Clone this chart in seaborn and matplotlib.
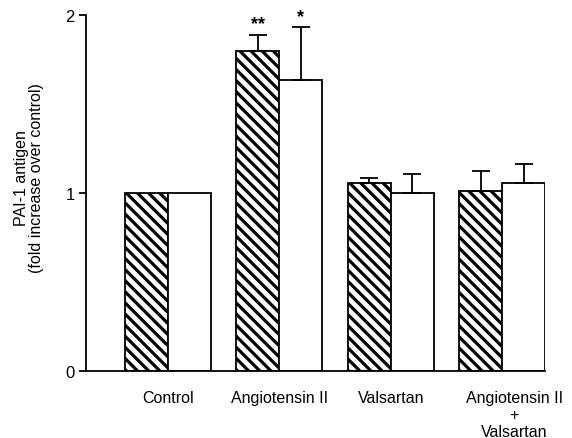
import seaborn as sns
import matplotlib.pyplot as plt
import matplotlib.transforms as mtransforms
import numpy as np
import pandas as pd

# values (fold increase over control)
groups = ["Control", "Angiotensin II", "Valsartan", "Angiotensin II\n+\nValsartan"]
series = ["hatched", "open"]
hatched_vals = [1.00, 1.80, 1.056, 1.01]
open_vals = [1.00, 1.635, 1.00, 1.056]
hatched_err = [0.0, 0.09, 0.028, 0.114]
open_err = [0.0, 0.295, 0.107, 0.107]
hatched_marks = ["", "**", "", ""]
open_marks = ["", "*", "", ""]

df = pd.DataFrame({
    "group": groups * 2,
    "series": [series[0]] * 4 + [series[1]] * 4,
    "value": hatched_vals + open_vals,
    "err": hatched_err + open_err,
    "mark": hatched_marks + open_marks,
})

sns.set_style("ticks", {"text.color": "black", "axes.labelcolor": "black",
                        "xtick.color": "black", "ytick.color": "black",
                        "axes.edgecolor": "black"})
plt.rcParams["font.family"] = ["Liberation Sans", "DejaVu Sans"]
plt.rcParams["hatch.linewidth"] = 2.3

fig = plt.figure(figsize=(5.72, 4.39), dpi=100)
ax = fig.add_axes([0.150, 0.1526, 0.803, 0.811])

sns.barplot(data=df, x="group", y="value", hue="series", order=groups,
            hue_order=series, palette=["white", "white"], width=0.77,
            errorbar=None, edgecolor="black", linewidth=1.3, legend=False, ax=ax)

for patch in ax.containers[0]:
    patch.set_hatch("\\\\\\")

# one-sided error bars and significance marks
for cont, s in zip(ax.containers, series):
    sub = df[df["series"] == s].set_index("group").loc[groups]
    for patch, (_, row) in zip(cont, sub.iterrows()):
        xc = patch.get_x() + patch.get_width() / 2
        top = patch.get_height()
        if row["err"] > 0:
            ax.errorbar(xc, top, yerr=[[0], [row["err"]]], fmt="none",
                        ecolor="black", elinewidth=1.3, capsize=6.5, capthick=1.3)
        if row["mark"]:
            ax.text(xc, top + row["err"] + 0.015, row["mark"], ha="center",
                    va="bottom", fontsize=13, fontweight="bold", color="black")

ax.set_ylim(0, 2)
ax.set_xlim(-0.734, 3.385)
ax.set_yticks([0, 1, 2])
ax.set_xlabel("")
ax.set_ylabel("PAI-1 antigen\n(fold increase over control)", fontsize=11.5,
              linespacing=1.05, color="black")
ax.yaxis.set_label_coords(-0.09, 0.545)
ax.tick_params(axis="y", length=5, width=1.3, labelsize=12, pad=3, colors="black")
ax.tick_params(axis="x", length=0, labelsize=11.5, pad=14, colors="black")
for lbl in ax.get_xticklabels():
    lbl.set_verticalalignment("top")
    lbl.set_linespacing(1.15)
# last label sits a little right of its bars in the original
last = ax.get_xticklabels()[-1]
last.set_transform(last.get_transform() +
                   mtransforms.ScaledTranslation(0.12, 0, fig.dpi_scale_trans))
for side in ["top", "right"]:
    ax.spines[side].set_visible(False)
for side in ["left", "bottom"]:
    ax.spines[side].set_linewidth(1.3)
    ax.spines[side].set_color("black")

fig.savefig("out.png", dpi=100)
